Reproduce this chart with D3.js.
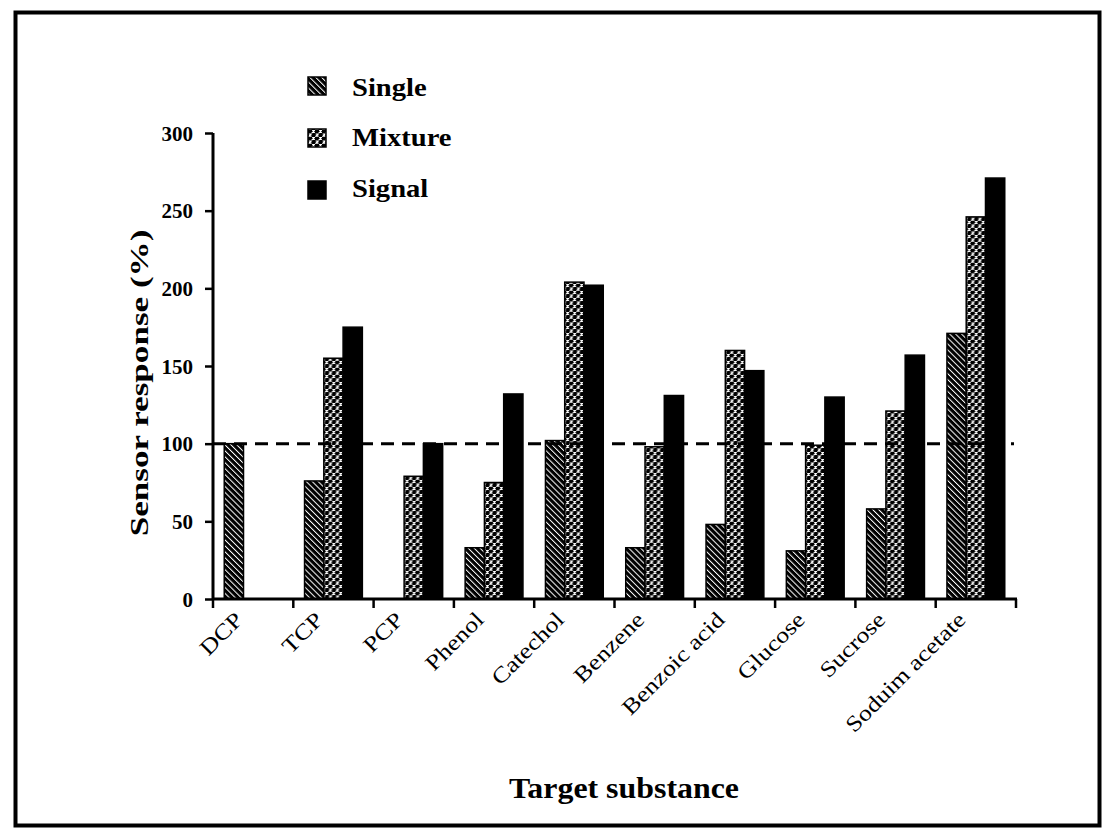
<!DOCTYPE html>
<html>
<head>
<meta charset="utf-8">
<script src="https://cdn.jsdelivr.net/npm/d3@7"></script>
<style>
  html, body { margin: 0; padding: 0; background: #fff; }
  svg { display: block; }
  text { font-family: "Liberation Serif", "Times New Roman", serif; fill: #000; }
</style>
</head>
<body>
<svg id="chart" width="1113" height="840"></svg>
<script>
// Sensor response per target substance
const categories = ["DCP", "TCP", "PCP", "Phenol", "Catechol", "Benzene",
                    "Benzoic acid", "Glucose", "Sucrose", "Soduim acetate"];
const seriesNames = ["Single", "Mixture", "Signal"];
const single  = [100, 76, null, 33, 102, 33, 48, 31, 58, 171];
const mixture = [null, 155, 79, 75, 204, 98, 160, 99, 121, 246];
const signal  = [null, 175, 100, 132, 202, 131, 147, 130, 157, 271];
const yTicks = [0, 50, 100, 150, 200, 250, 300];
const referenceLevel = 100;

const seriesValues = { Single: single, Mixture: mixture, Signal: signal };

const svg = d3.select("#chart");
const defs = svg.append("defs");

// hatched fill: black with thin white diagonals
const hatch = defs.append("pattern")
  .attr("id", "pat-single").attr("patternUnits", "userSpaceOnUse")
  .attr("width", 4.2).attr("height", 4.2)
  .attr("patternTransform", "rotate(-45)");
hatch.append("rect").attr("width", 4.2).attr("height", 4.2).attr("fill", "#000");
hatch.append("rect").attr("x", 0).attr("width", 1).attr("height", 4.2).attr("fill", "#fff");

// speckled fill: black with white squiggles
const speck = defs.append("pattern")
  .attr("id", "pat-mixture").attr("patternUnits", "userSpaceOnUse")
  .attr("width", 7).attr("height", 7);
speck.append("rect").attr("width", 7).attr("height", 7).attr("fill", "#000");
speck.append("path").attr("d", "M0.6,1 h2.6 l-2.2,2.2 h2.6 M4.1,4.5 h2.4 l-2,2 h2.4")
  .attr("fill", "none").attr("stroke", "#fff").attr("stroke-width", 1.2);

const fills = { Single: "url(#pat-single)", Mixture: "url(#pat-mixture)", Signal: "#000" };

// outer frame
svg.append("rect").attr("x", 15.5).attr("y", 12.5).attr("width", 1084).attr("height", 813)
  .attr("fill", "none").attr("stroke", "#000").attr("stroke-width", 4);

const plot = { left: 213, right: 1016, top: 133, bottom: 599 };

const x0 = d3.scaleBand().domain(categories).range([plot.left, plot.right]);
const bw = x0.bandwidth();
const x1 = d3.scaleBand().domain(seriesNames).range([bw * 0.14, bw * 0.86]);
const y = d3.scaleLinear().domain([0, 300]).range([plot.bottom, plot.top]);

const sx = 1.18; // glyph widening for the serif labels

// bars
const groups = svg.append("g").selectAll("g").data(categories).join("g")
  .attr("transform", d => `translate(${x0(d)},0)`);
groups.selectAll("rect")
  .data((c, i) => seriesNames.map(s => ({ s, v: seriesValues[s][i] })).filter(d => d.v != null))
  .join("rect")
  .attr("x", d => x1(d.s))
  .attr("width", x1.bandwidth())
  .attr("y", d => y(d.v))
  .attr("height", d => y(0) - y(d.v))
  .attr("fill", d => fills[d.s])
  .attr("stroke", "#000").attr("stroke-width", 1.5);

// dashed reference line at 100 %
svg.append("line")
  .attr("x1", plot.left).attr("x2", plot.right - 2)
  .attr("y1", y(referenceLevel)).attr("y2", y(referenceLevel))
  .attr("stroke", "#000").attr("stroke-width", 3).attr("stroke-dasharray", "13,8");

// y axis
const yAxis = svg.append("g").attr("transform", `translate(${plot.left},0)`)
  .call(d3.axisLeft(y).tickValues(yTicks).tickSize(8).tickFormat(d3.format("d")));
yAxis.select(".domain").attr("d", `M0,${plot.top}V${plot.bottom}`).attr("stroke-width", 3);
yAxis.selectAll(".tick line").attr("stroke-width", 2.5);
yAxis.selectAll(".tick text").remove();
yAxis.selectAll(".tick").append("text")
  .attr("transform", "translate(-20,7)")
  .attr("text-anchor", "end")
  .style("font-size", "21px").style("font-weight", "bold")
  .text(d => d);

// x axis with ticks at category boundaries
const xAxis = svg.append("g").attr("transform", `translate(0,${plot.bottom})`);
xAxis.append("line").attr("x1", plot.left - 1).attr("x2", plot.right + 1)
  .attr("stroke", "#000").attr("stroke-width", 3);
const boundaries = categories.map(c => x0(c)).concat([plot.right]);
xAxis.selectAll("line.tk").data(boundaries).join("line").attr("class", "tk")
  .attr("x1", d => d).attr("x2", d => d).attr("y1", 0).attr("y2", 9)
  .attr("stroke", "#000").attr("stroke-width", 2.5);
xAxis.selectAll("text").data(categories).join("text")
  .attr("transform", d => `translate(${x0(d) + bw / 2 - 9},${22}) rotate(-45) scale(${sx},1)`)
  .attr("text-anchor", "end")
  .style("font-size", "22px")
  .text(d => d);

// axis titles
svg.append("text")
  .attr("transform", `translate(148,383) rotate(-90) scale(1.35,1)`)
  .attr("text-anchor", "middle")
  .style("font-size", "26px").style("font-weight", "bold")
  .text("Sensor response (%)");
svg.append("text")
  .attr("transform", `translate(624,798) scale(1.1,1)`)
  .attr("text-anchor", "middle")
  .style("font-size", "29px").style("font-weight", "bold")
  .text("Target substance");

// legend
const legendRows = [
  { s: "Single", cy: 86, base: 96 },
  { s: "Mixture", cy: 138, base: 146 },
  { s: "Signal", cy: 190, base: 197 }
];
const legend = svg.append("g");
legend.selectAll("rect").data(legendRows).join("rect")
  .attr("x", 308).attr("y", d => d.cy - 9).attr("width", 18).attr("height", 18)
  .attr("fill", d => fills[d.s]).attr("stroke", "#000").attr("stroke-width", 1.5);
legend.selectAll("text").data(legendRows).join("text")
  .attr("transform", d => `translate(352,${d.base}) scale(1.1,1)`)
  .style("font-size", "26px").style("font-weight", "bold")
  .text(d => d.s);
</script>
</body>
</html>
